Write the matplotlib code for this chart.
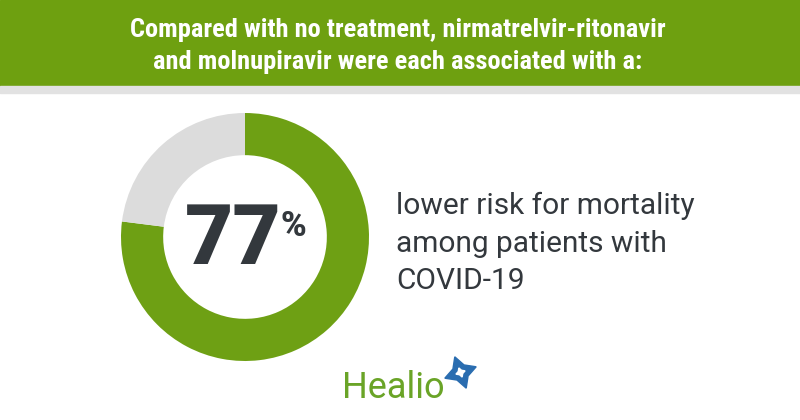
import matplotlib.pyplot as plt
from matplotlib.patches import Rectangle

# Data
shares = [77, 23]
share_labels = ["nirmatrelvir-ritonavir / molnupiravir", "rest"]
big_number = "77"
header_lines = ["Compared with no treatment, nirmatrelvir-ritonavir",
                "and molnupiravir were each associated with a:"]
caption_lines = ["lower risk for mortality", "among patients with", "COVID-19"]

GREEN = "#6ea014"
GRAY = "#dcdcdc"
DARK = "#33383d"

W, H = 800, 420
fig = plt.figure(figsize=(W / 100, H / 100), dpi=100)
fig.patch.set_facecolor("white")

# background canvas in pixel coordinates
bg = fig.add_axes([0, 0, 1, 1])
bg.set_xlim(0, W)
bg.set_ylim(H, 0)
bg.axis("off")

bg.add_patch(Rectangle((0, 0), W, 86, color="#6ea010", zorder=1))
bg.add_patch(Rectangle((0, 86), W, 7, color="#e2e2e2", zorder=1))

head_font = ["Liberation Sans Narrow", "Roboto Condensed", "Roboto", "DejaVu Sans"]
for i, line in enumerate(header_lines):
    bg.text(398, 30 + i * 32, line, ha="center", va="center", color="white",
            fontsize=19, fontweight="bold", family=head_font, zorder=3)

for i, line in enumerate(caption_lines):
    bg.text(396, 206 + i * 37.5, line, ha="left", va="center", color=DARK,
            fontsize=21.5, family=["Roboto", "DejaVu Sans"], zorder=3)

# big number
bg.text(233, 242, big_number, ha="center", va="center", color=DARK,
        fontsize=60, fontweight="black", family=["Roboto", "DejaVu Sans"], zorder=3)
bg.text(293, 226, "%", ha="center", va="center", color=DARK,
        fontsize=25, fontweight="black", family=["Roboto", "DejaVu Sans"], zorder=3)

# logo
bg.text(393, 388, "Healio", ha="center", va="center", color="#6aa427",
        fontsize=26, family=["Roboto", "DejaVu Sans"], zorder=3)
bg.plot([460], [372], marker=(4, 1, 20), markersize=24, color="#2a6db0", zorder=3)
bg.plot([460], [372], marker=(4, 1, 20), markersize=7, color="white", zorder=4)

# donut
cx, cy, r = 245, 237, 124
donut = fig.add_axes([(cx - r) / W, (H - cy - r) / H, 2 * r / W, 2 * r / H])
donut.pie(shares, colors=[GREEN, GRAY], startangle=90, counterclock=False,
          wedgeprops=dict(width=0.34, edgecolor="none"))
donut.set_xlim(-1, 1)
donut.set_ylim(-1, 1)
donut.set_aspect("equal")
donut.axis("off")

fig.savefig("out.png", dpi=100, facecolor="white")
